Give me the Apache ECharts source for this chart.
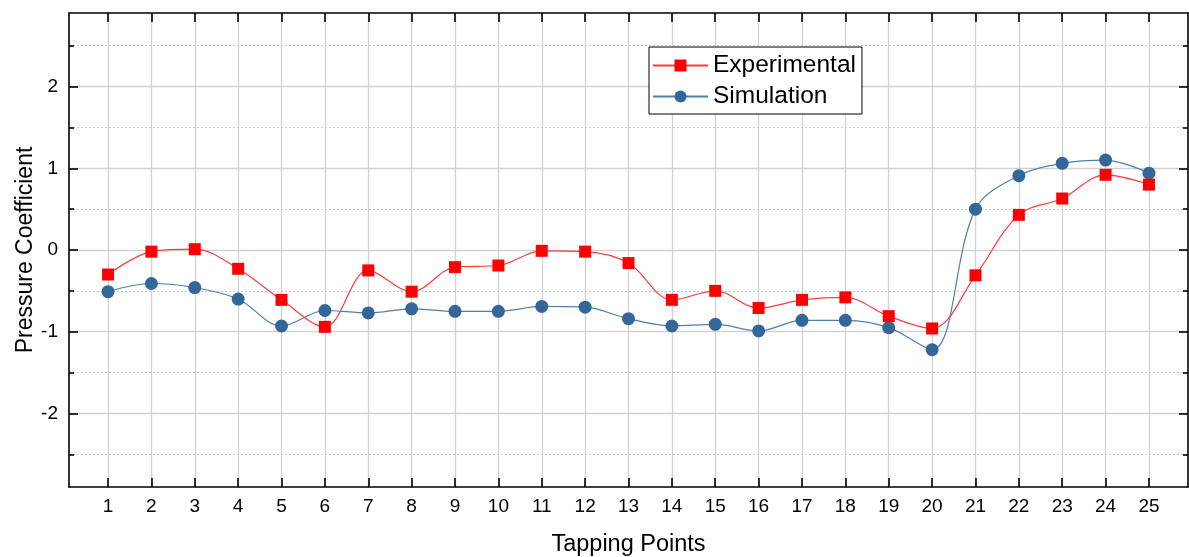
<!DOCTYPE html>
<html>
<head>
<meta charset="utf-8">
<script src="https://cdn.jsdelivr.net/npm/echarts@6/dist/echarts.min.js"></script>
<style>
html,body{margin:0;padding:0;background:#fff;}
#chart{width:1189px;height:557px;}
</style>
</head>
<body>
<div id="chart"></div>
<script>
const categories = [1,2,3,4,5,6,7,8,9,10,11,12,13,14,15,16,17,18,19,20,21,22,23,24,25];
const experimental = [-0.30,-0.02,0.01,-0.23,-0.61,-0.94,-0.25,-0.51,-0.21,-0.19,-0.01,-0.02,-0.16,-0.61,-0.50,-0.71,-0.61,-0.58,-0.81,-0.96,-0.31,0.43,0.63,0.92,0.80];
const simulation = [-0.51,-0.41,-0.46,-0.60,-0.93,-0.74,-0.77,-0.72,-0.75,-0.75,-0.69,-0.70,-0.84,-0.93,-0.91,-0.99,-0.86,-0.86,-0.95,-1.22,0.50,0.91,1.06,1.10,0.94];
const yMajor = [-2,-1,0,1,2];
const yMinor = [-2.5,-1.5,-0.5,0.5,1.5,2.5];
const xTitle = 'Tapping Points';
const yTitle = 'Pressure Coefficient';

const FONT = 'Arial, "Liberation Sans", sans-serif';
const axisLineStyle = {color:'#000', width:1.6};
const XMIN = 0.1, XMAX = 25.9, YMIN = -2.9, YMAX = 2.9;

function yAx(pos, ticks, len, opts) {
  return Object.assign({
    type:'value', position:pos, min:YMIN, max:YMAX, gridIndex:0,
    axisLine:{show:true, onZero:false, lineStyle:axisLineStyle},
    axisTick:{show:true, inside:true, length:len, customValues:ticks, lineStyle:axisLineStyle},
    axisLabel:{show:false},
    splitLine:{show:false}
  }, opts || {});
}

const chart = echarts.init(document.getElementById('chart'), null, {renderer:'canvas'});
chart.setOption({
  animation:false,
  backgroundColor:'#fff',
  textStyle:{fontFamily:FONT},
  grid:{left:69, right:1, top:13, bottom:70, containLabel:false, outerBoundsMode:'none'},
  legend:{
    left:649, top:47, orient:'vertical',
    backgroundColor:'#fff', borderColor:'#000', borderWidth:1,
    padding:[6,6,5,3], itemGap:6, itemWidth:55, itemHeight:15,
    textStyle:{fontSize:24.5, color:'#000', fontFamily:FONT, lineHeight:24},
    data:['Experimental','Simulation']
  },
  xAxis:[
    {type:'value', position:'bottom', min:XMIN, max:XMAX,
     axisLine:{show:true, onZero:false, lineStyle:axisLineStyle},
     axisTick:{show:true, inside:true, length:9, customValues:categories, lineStyle:axisLineStyle},
     axisLabel:{show:true, customValues:categories, fontSize:19, color:'#000', margin:10, fontFamily:FONT},
     splitLine:{show:true, lineStyle:{color:'#d2d2d2', width:1.3}},
     name:xTitle, nameLocation:'middle', nameGap:46, nameMoveOverlap:false,
     nameTextStyle:{fontSize:23.5, color:'#000', fontFamily:FONT}
    },
    {type:'value', position:'top', min:XMIN, max:XMAX,
     axisLine:{show:true, onZero:false, lineStyle:axisLineStyle},
     axisTick:{show:true, inside:true, length:9, customValues:categories, lineStyle:axisLineStyle},
     axisLabel:{show:false}, splitLine:{show:false}
    }
  ],
  yAxis:[
    yAx('left', yMajor, 9, {
      axisLabel:{show:true, customValues:yMajor, fontSize:19, color:'#000', margin:11, fontFamily:FONT},
      splitLine:{show:true, lineStyle:{color:'#d2d2d2', width:1.3}},
      name:yTitle, nameLocation:'middle', nameGap:32, nameMoveOverlap:false,
      nameTextStyle:{fontSize:23, color:'#000', fontFamily:FONT}
    }),
    yAx('left', yMinor, 5, {
      axisLine:{show:false},
      splitLine:{show:true, lineStyle:{color:'#c8c8c8', width:1, type:[2,2]}}
    }),
    yAx('right', yMajor, 9),
    yAx('right', yMinor, 5, {axisLine:{show:false}})
  ],
  series:[
    {name:'Simulation', type:'line', xAxisIndex:0, yAxisIndex:0, smooth:0.35,
     data:categories.map((c,i)=>[c, simulation[i]]),
     symbol:'circle', symbolSize:13,
     itemStyle:{color:'#336699'},
     lineStyle:{color:'#4f7fae', width:1.2}, z:3},
    {name:'Experimental', type:'line', xAxisIndex:0, yAxisIndex:0, smooth:0.35,
     data:categories.map((c,i)=>[c, experimental[i]]),
     symbol:'rect', symbolSize:12,
     itemStyle:{color:'#ff0000'},
     lineStyle:{color:'#ff3b3b', width:1.2}, z:4}
  ]
});
</script>
</body>
</html>
